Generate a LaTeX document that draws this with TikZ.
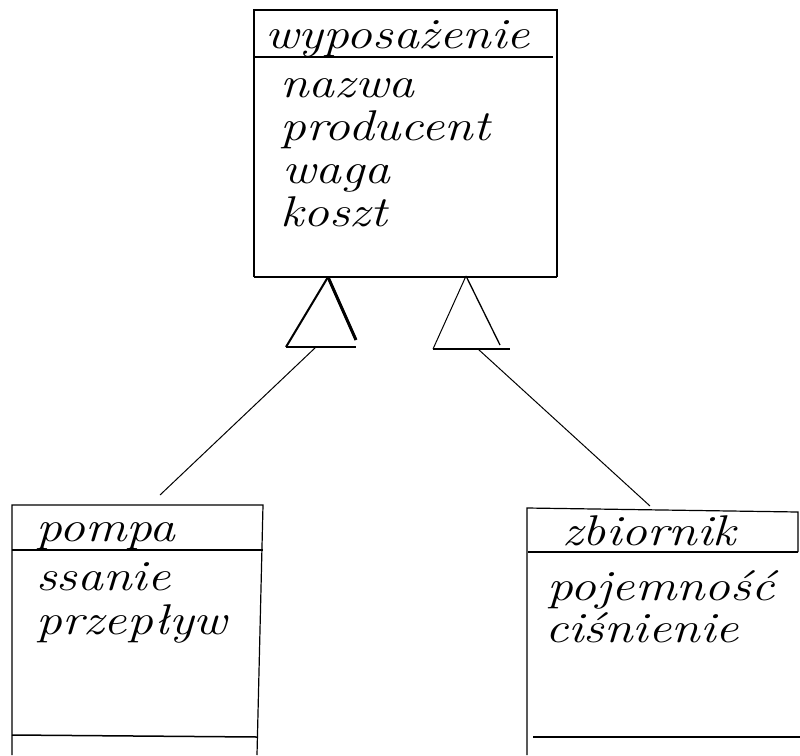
\documentclass[tikz,border=0pt]{standalone}
\usepackage{fontspec}
\begin{document}
\begin{tikzpicture}[x=1pt,y=-1pt,
  sepline/.style={line width=1.8pt},
  heavyline/.style={line width=2.6pt},
  gentri/.style={line width=1.4pt,line join=round},
  link/.style={line width=1pt},
  hand/.style={font=\fontsize{43}{45}\selectfont\itshape,anchor=base west,inner sep=0pt,xscale=1.2},
]
\useasboundingbox (0,0) rectangle (800,755);

% ---- superclass: wyposazenie ----
\draw[line width=1.3pt] (254,277) -- (254,10) -- (557,10) -- (557,277);
\draw[heavyline] (254,277) -- (557,277);
\draw[sepline] (254,57) -- (553,57);
\node[hand] (wname) at (265,48) {wyposażenie};
\node[hand] (w1) at (280,97) {nazwa};
\node[hand] (w2) at (280,140) {producent};
\node[hand] (w3) at (282,183) {waga};
\node[hand] (w4) at (280,226) {koszt};

% ---- generalisation triangles ----
\coordinate (t1apex) at (328,277);
\coordinate (t1l) at (286,347);
\coordinate (t1r) at (356,347);
\coordinate (t1base) at (316,347);
\draw[gentri] (t1l) -- (t1r);
\draw[line width=2pt] (t1apex) -- (t1l);
\draw[line width=3pt] (t1apex) -- (t1r |- 0,340);

\coordinate (t2apex) at (466,276);
\coordinate (t2l) at (433,349);
\coordinate (t2r) at (510,349);
\coordinate (t2base) at (478,349);
\draw[line width=1pt] (t2apex) -- (t2l);
\draw[line width=1.3pt] (t2apex) -- (500,345);
\draw[gentri] (t2l) -- (t2r);

% ---- subclass: pompa ----
\draw[line width=1.2pt] (12,755) -- (12,505) -- (263,505) -- (257,755);
\draw[sepline] (12,550) -- (263,550);
\draw[line width=1.5pt] (12,735) -- (257,737);
\coordinate (pTop) at (160,495);
\node[hand] (pname) at (36,541) {pompa};
\node[hand] (p1) at (36,590) {ssanie};
\node[hand] (p2) at (36,634) {przepływ};

% ---- subclass: zbiornik ----
\draw[line width=1.2pt] (527,755) -- (527,508) -- (798,512) -- (798,552);
\draw[sepline] (528,552) -- (798,552);
\draw[line width=1.5pt] (533,737) -- (800,737);
\coordinate (zTop) at (650,506);
\node[hand] (zname) at (562,545) {zbiornik};
\node[hand] (z1) at (547,600) {pojemność};
\node[hand] (z2) at (545,642) {ciśnienie};

% ---- connectors ----
\draw[link] (t1base) -- (pTop);
\draw[link] (t2base) -- (zTop);
\end{tikzpicture}
\end{document}
